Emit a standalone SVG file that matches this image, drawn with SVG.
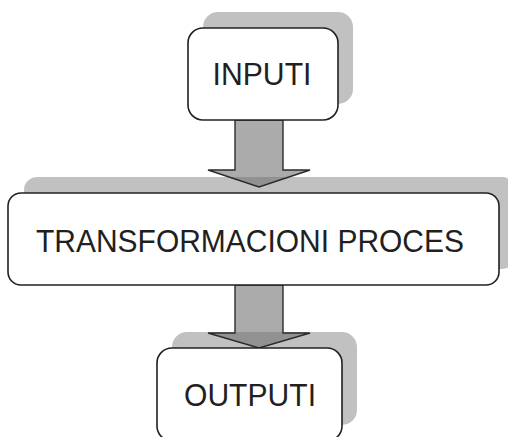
<svg xmlns="http://www.w3.org/2000/svg" width="508" height="437" viewBox="0 0 508 437">
  <style>
    .shadow { fill: #c1c1c1; }
    .box { fill: #ffffff; stroke: #231f20; stroke-width: 1.6; }
    .arrow { fill: #6e6e6e; fill-opacity: 0.58; stroke: #2b2b2b; stroke-width: 1.4; stroke-linejoin: miter; }
    .label { font-family: "Liberation Sans", Arial, sans-serif; font-size: 32px; fill: #231f20; text-anchor: middle; }
  </style>

  <!-- drop shadows behind the boxes -->
  <g id="shadows">
    <rect class="shadow" x="203" y="12" width="150" height="92" rx="15"/>
    <rect class="shadow" x="24" y="177" width="491" height="92" rx="13"/>
    <rect class="shadow" x="172" y="332" width="185" height="93" rx="15"/>
  </g>

  <!-- block arrows between the stages -->
  <g id="connectors">
    <polygon class="arrow" points="235,120 283,120 283,170 310,170 259,187 208,170 235,170"/>
    <polygon class="arrow" points="235,285 283,285 283,333 310,333 259,348 208,333 235,333"/>
  </g>

  <g id="inputi">
    <rect class="box" x="188" y="28" width="150" height="92" rx="15"/>
    <text class="label" x="262" y="85" textLength="99" lengthAdjust="spacingAndGlyphs">INPUTI</text>
  </g>

  <g id="proces">
    <rect class="box" x="8" y="193" width="491" height="92" rx="13"/>
    <text class="label" x="250" y="252" textLength="428" lengthAdjust="spacingAndGlyphs">TRANSFORMACIONI PROCES</text>
  </g>

  <g id="outputi">
    <rect class="box" x="157" y="348" width="185" height="93" rx="15"/>
    <text class="label" x="250" y="406" textLength="132" lengthAdjust="spacingAndGlyphs">OUTPUTI</text>
  </g>
</svg>
